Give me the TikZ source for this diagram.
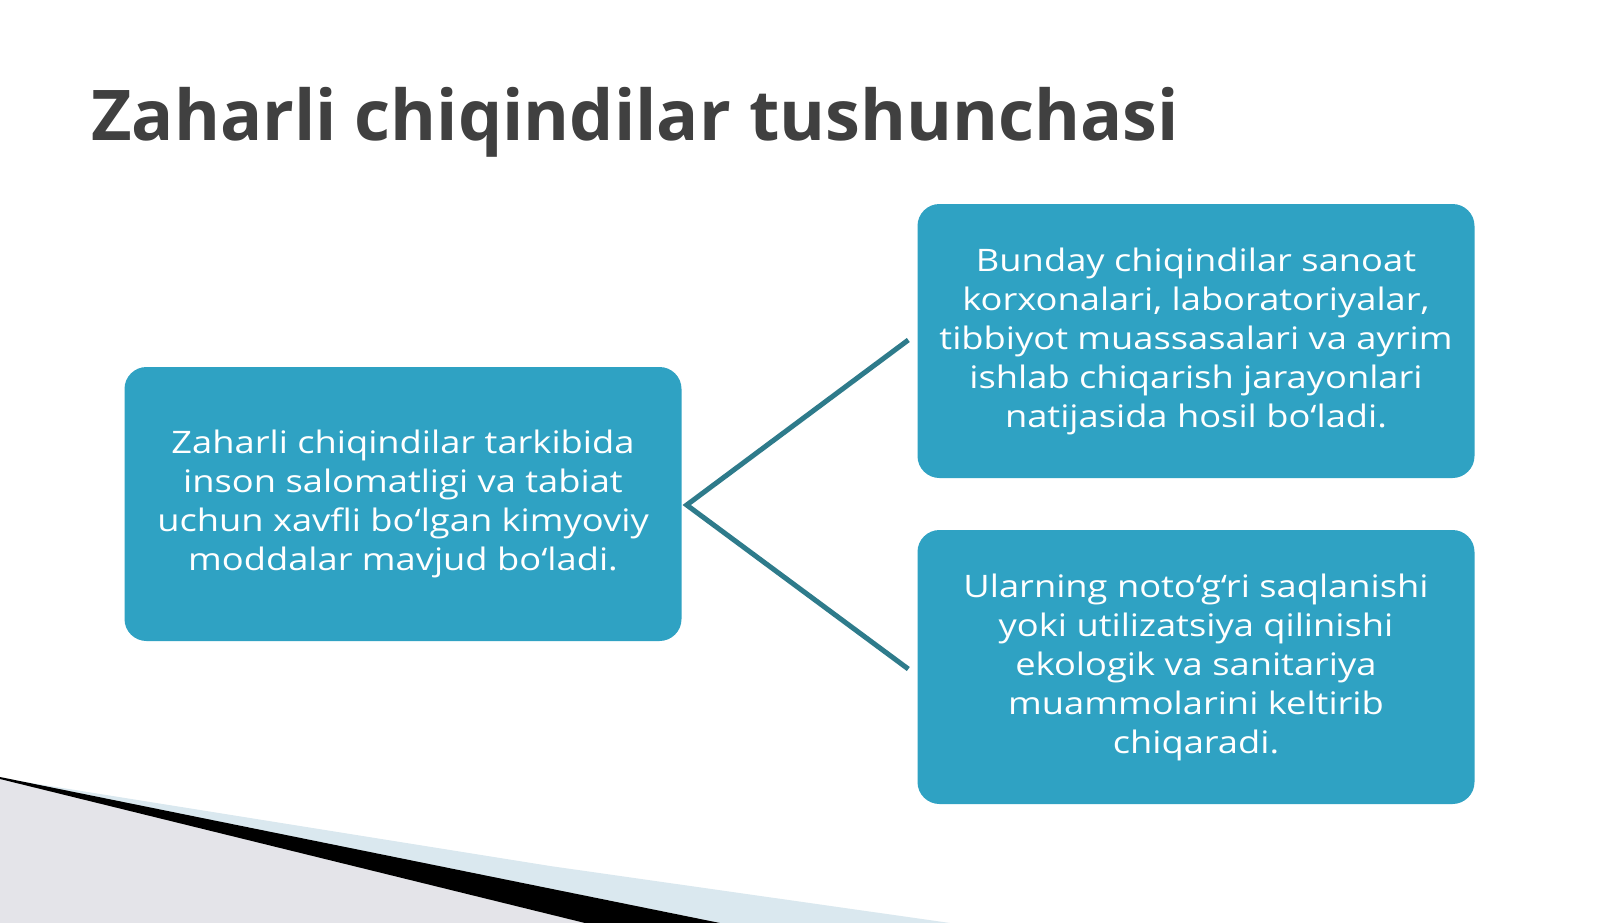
\documentclass[tikz,border=0pt]{standalone}
\usepackage{fontspec}
\setmainfont{Open Sans}
\newfontfamily\cardfont[FakeStretch=1.17]{Open Sans}
\definecolor{boxc}{HTML}{2FA2C3}
\definecolor{linec}{HTML}{2E7B8B}
\definecolor{titlec}{HTML}{404040}
\definecolor{grayc}{HTML}{E4E4E9}
\definecolor{bandc}{HTML}{DAE8EF}
\begin{document}
\begin{tikzpicture}[x=1pt,y=-1pt,
  card/.style={fill=boxc, rounded corners=22pt, minimum width=557pt, minimum height=274pt,
    text=white, align=center, font=\cardfont\fontsize{31}{39}\selectfont, inner sep=0pt},
  conn/.style={draw=linec, line width=5pt, line join=miter}]
\useasboundingbox (0,0) rectangle (1600,923);
\fill[white] (0,0) rectangle (1600,923);
% bottom-left decoration
\fill[bandc] (0,778) -- (550,866) -- (950,923) -- (720,923) -- cycle;
\fill[grayc] (0,778) -- (585,923) -- (0,923) -- cycle;
\fill[black] (0,777) -- (720,923) -- (585,923) -- (0,779) -- cycle;
% title
\node[anchor=base west, inner sep=0pt, text=titlec, font=\fontsize{70}{80}\selectfont\bfseries] (title) at (91,140) {Zaharli chiqindilar tushunchasi};
% boxes
\node[card] (lb) at (403,504) {Zaharli chiqindilar tarkibida\\inson salomatligi va tabiat\\uchun xavfli bo‘lgan kimyoviy\\moddalar mavjud bo‘ladi.};
\node[card] (tr) at (1196,341) {Bunday chiqindilar sanoat\\korxonalari, laboratoriyalar,\\tibbiyot muassasalari va ayrim\\ishlab chiqarish jarayonlari\\natijasida hosil bo‘ladi.};
\node[card] (br) at (1196,667) {Ularning noto‘g‘ri saqlanishi\\yoki utilizatsiya qilinishi\\ekologik va sanitariya\\muammolarini keltirib\\chiqaradi.};
% connectors
\coordinate (hub) at ([xshift=5pt,yshift=-1pt]lb.east);
\coordinate (c1) at ([xshift=-9pt,yshift=1pt]tr.west);
\coordinate (c2) at ([xshift=-9pt,yshift=-2pt]br.west);
\draw[conn] (c1) -- (hub) -- (c2);
\end{tikzpicture}
\end{document}
